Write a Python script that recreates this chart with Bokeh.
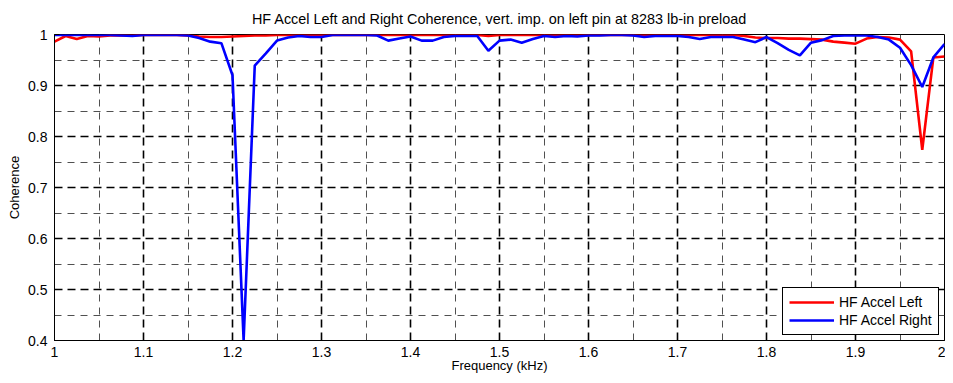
from bokeh.plotting import figure
from bokeh.models import Range1d, FixedTicker, Legend, LegendItem, ColumnDataSource
from bokeh.embed import file_html
from bokeh.resources import INLINE

TITLE = "HF Accel Left and Right Coherence, vert. imp. on left pin at 8283 lb-in preload"
X_LABEL = "Frequency (kHz)"
Y_LABEL = "Coherence"
SERIES_NAMES = ["HF Accel Left", "HF Accel Right"]

freq_khz = [
    1.0, 1.0125, 1.025, 1.0375, 1.05, 1.0625, 1.075, 1.0875, 1.1, 1.1125,
    1.125, 1.1375, 1.15, 1.1625, 1.175, 1.1875, 1.2, 1.2125, 1.225, 1.2375,
    1.25, 1.2625, 1.275, 1.2875, 1.3, 1.3125, 1.325, 1.3375, 1.35, 1.3625,
    1.375, 1.3875, 1.4, 1.4125, 1.425, 1.4375, 1.45, 1.4625, 1.475, 1.4875,
    1.5, 1.5125, 1.525, 1.5375, 1.55, 1.5625, 1.575, 1.5875, 1.6, 1.6125,
    1.625, 1.6375, 1.65, 1.6625, 1.675, 1.6875, 1.7, 1.7125, 1.725, 1.7375,
    1.75, 1.7625, 1.775, 1.7875, 1.8, 1.8125, 1.825, 1.8375, 1.85, 1.8625,
    1.875, 1.8875, 1.9, 1.9125, 1.925, 1.9375, 1.95, 1.9625, 1.975, 1.9875,
    2.0,
]

coh_left = [
    0.986, 0.997, 0.991, 0.997, 0.996, 0.998, 0.998, 0.998, 0.999, 0.999,
    0.999, 0.999, 0.998, 0.996, 0.995, 0.995, 0.996, 0.997, 0.998, 0.998,
    0.999, 0.999, 0.999, 0.999, 0.999, 0.999, 0.999, 0.999, 0.999, 0.999,
    0.999, 0.999, 0.999, 0.999, 0.999, 0.999, 0.999, 0.999, 0.999, 0.997,
    0.999, 0.999, 0.999, 0.999, 0.999, 0.999, 0.999, 0.999, 0.999, 0.999,
    0.999, 0.999, 0.999, 0.999, 0.999, 0.999, 0.999, 0.999, 0.999, 0.999,
    0.999, 0.999, 0.997, 0.994, 0.993, 0.993, 0.992, 0.992, 0.991, 0.990,
    0.986, 0.984, 0.982, 0.992, 0.995, 0.994, 0.990, 0.967, 0.774, 0.955,
    0.957,
]

coh_right = [
    0.999, 0.999, 0.999, 0.999, 0.999, 0.999, 0.998, 0.997, 0.999, 0.999,
    0.999, 0.999, 0.998, 0.993, 0.986, 0.983, 0.920, 0.400, 0.939, 0.963,
    0.988, 0.994, 0.997, 0.995, 0.995, 0.999, 0.999, 0.999, 0.999, 0.998,
    0.988, 0.992, 0.996, 0.988, 0.988, 0.995, 0.997, 0.997, 0.997, 0.968,
    0.988, 0.990, 0.984, 0.991, 0.997, 0.995, 0.997, 0.996, 0.998, 0.998,
    0.999, 0.999, 0.998, 0.995, 0.997, 0.997, 0.997, 0.995, 0.991, 0.995,
    0.995, 0.995, 0.990, 0.985, 0.995, 0.983, 0.970, 0.959, 0.984, 0.989,
    0.997, 0.998, 0.998, 0.998, 0.995, 0.990, 0.974, 0.940, 0.897, 0.955,
    0.981,
]

x_ticks = [1.0, 1.1, 1.2, 1.3, 1.4, 1.5, 1.6, 1.7, 1.8, 1.9, 2.0]
x_tick_labels = ["1", "1.1", "1.2", "1.3", "1.4", "1.5", "1.6", "1.7", "1.8", "1.9", "2"]
x_minor = [1.05, 1.15, 1.25, 1.35, 1.45, 1.55, 1.65, 1.75, 1.85, 1.95]
y_ticks = [0.4, 0.5, 0.6, 0.7, 0.8, 0.9, 1.0]
y_tick_labels = ["0.4", "0.5", "0.6", "0.7", "0.8", "0.9", "1"]
y_minor = [0.45, 0.55, 0.65, 0.75, 0.85, 0.95]

FONT = "Liberation Sans"

src = ColumnDataSource(dict(f=freq_khz, left=coh_left, right=coh_right))

p = figure(width=945, height=375, output_backend="svg", toolbar_location=None,
           x_range=Range1d(1.0, 2.0), y_range=Range1d(0.4, 1.0),
           min_border_left=54, min_border_right=1, min_border_top=34, min_border_bottom=33)

p.title.text = TITLE
p.title.align = "center"
p.title.text_font = FONT
p.title.text_font_size = "14.4px"
p.title.text_font_style = "normal"
p.title.text_color = "black"
p.title.standoff = 16

p.background_fill_color = "white"
p.border_fill_color = "white"
p.outline_line_color = "black"
p.outline_line_width = 1
p.outline_line_alpha = 1

p.xaxis.ticker = FixedTicker(ticks=x_ticks, minor_ticks=x_minor)
p.yaxis.ticker = FixedTicker(ticks=y_ticks, minor_ticks=y_minor)
p.xaxis.major_label_overrides = dict(zip(x_ticks, x_tick_labels))
p.yaxis.major_label_overrides = dict(zip(y_ticks, y_tick_labels))
p.xaxis.axis_label = X_LABEL
p.yaxis.axis_label = Y_LABEL

for ax in (p.xaxis[0], p.yaxis[0]):
    ax.axis_line_color = "black"
    ax.major_tick_line_color = "black"
    ax.major_tick_in = 5
    ax.major_tick_out = 0
    ax.minor_tick_line_color = None
    ax.major_label_text_font = FONT
    ax.major_label_text_font_size = "14px"
    ax.major_label_text_color = "black"
    ax.axis_label_text_font = FONT
    ax.axis_label_text_font_size = "13px"
    ax.axis_label_text_font_style = "normal"
    ax.axis_label_text_color = "black"

p.xaxis.major_label_standoff = 2
p.xaxis.axis_label_standoff = -2
p.yaxis.major_label_standoff = 3
p.yaxis.axis_label_standoff = 3

for g in (p.xgrid[0], p.ygrid[0]):
    g.grid_line_color = "black"
    g.grid_line_width = 1.6
    g.grid_line_dash = "8 5"
    g.grid_line_alpha = 1
    g.minor_grid_line_color = "#505050"
    g.minor_grid_line_width = 1
    g.minor_grid_line_dash = "7 6"
    g.minor_grid_line_alpha = 1

r_left = p.line("f", "left", source=src, line_color="#ff0000", line_width=2.6)
r_right = p.line("f", "right", source=src, line_color="#0000ff", line_width=2.6)

legend = Legend(items=[LegendItem(label=SERIES_NAMES[0], renderers=[r_left]),
                       LegendItem(label=SERIES_NAMES[1], renderers=[r_right])],
                location=(728, 5))
legend.border_line_color = "black"
legend.border_line_width = 1
legend.border_line_alpha = 1
legend.background_fill_color = "white"
legend.background_fill_alpha = 1
legend.label_text_font = FONT
legend.label_text_font_size = "14px"
legend.label_text_color = "black"
legend.glyph_width = 45
legend.glyph_height = 16
legend.label_height = 16
legend.label_standoff = 5
legend.padding = 6
legend.spacing = 2
legend.margin = 0
p.add_layout(legend, "center")

open("out.html", "w").write(file_html(p, INLINE))
